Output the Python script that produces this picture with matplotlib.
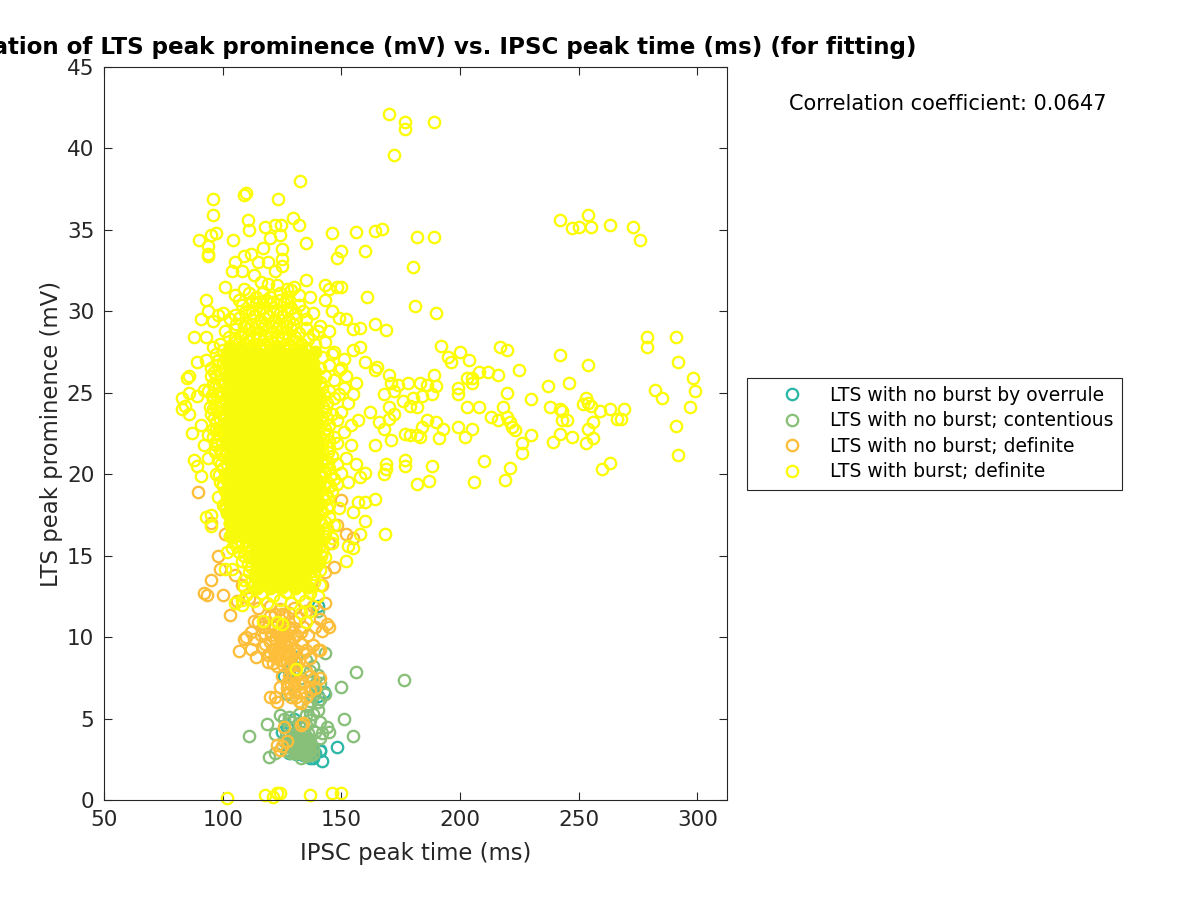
import matplotlib
matplotlib.use("Agg")
import matplotlib.pyplot as plt
from matplotlib.lines import Line2D

title_text = "Correlation of LTS peak prominence (mV) vs. IPSC peak time (ms) (for fitting)"
x_label = "IPSC peak time (ms)"
y_label = "LTS peak prominence (mV)"
corr_text = "Correlation coefficient: 0.0647"
series_names = ["LTS with no burst by overrule", "LTS with no burst; contentious",
                "LTS with no burst; definite", "LTS with burst; definite"]
series_colors = ["#2db7a6", "#88c07a", "#fdbe3a", "#fcfc06"]
saturated_color = "#f8fa0c"
x_ticks = [50, 100, 150, 200, 250, 300]
y_ticks = [0, 5, 10, 15, 20, 25, 30, 35, 40, 45]

overrule = [(142,2.4),(148,3.25),(141,3.1),(128,2.9),(131,2.8),(136,2.7),(138,2.6),(139,2.9),(142.5,6.6),
            (140,6.4),(127,4.5),(126,7.6),(130,5),(133,3.2),(129,3.5),(135,3.0),(125,4.2),(140,11.9),
            (131,8.8),(141,3),(128,7.9),(137,2.55),(134,2.75),(127.5,3.1)]

contentious = [(176.5,7.35),(156,7.85),(150,6.95),(143,9),(155,3.9),(151,4.95),(144,4.5),(145,4.2),(142,4.1),
               (111,3.9),(122,4.05),(118.5,4.65),(119.5,2.65),(122,2.9),(124,5.2),(128,5.1),(132,5.3),
               (135,5.2),(137,4.9),(140,5.5),(141,6.2),(138,6.4),(139,7.1),(140,7.7),(137,7.9),(133,7.5),
               (130,7.9),(143,6.5),(141,4.8),(132,4.7),(130,4.4),(128,4),(126,3.6),(129,3.2),(131,3.4),
               (133,3.8),(134,4),(135,3.6),(136,3.3),(137,3),(134,2.8),(131,2.9),(133,3.1),(129,2.9),
               (127,3.0),(132,3.6),(134,3.3),(136,2.9),(138,2.8),(135,2.7),(133,2.6),(130,3.7),(128,4.5),
               (136,5.8),(137,6.1),(140,6),(141,3.8),(140,11.6),(134,4.4),(131,4.1),(129,4.8),(126,5),
               (135,4.6),(138,5.3),(139,4.2),(127,6.5),(133,3.5),(132,3.0),(135,3.2),(137,3.6),(136,4.1),
               (139,6.7),(141,7.2),(138,8.2),(135,8.6),(129,8.4),(130,3.1),(131,3.6),(132,3.3),(133,2.9),
               (134,3.6),(134,3.1),(135,3.9),(136,3.6),(137,3.3),(130,3.4),(131,3.9),(132,3.9),(133,4.2),
               (135,2.95),(136,3.15),(137,2.75),(138,3.2),(131,3.15),(129,3.7),(128,3.4),(133,3.35),(134,3.75)]

definite_no_burst = [(92,12.7),(93.5,12.6),(95,13.5),(100,12.6),(103,11.35),(106,12.2),(107,9.15),(109,9.9),
    (110,10),(112,9.3),(113,9.9),(114,8.8),(112,10.3),(113,11),(115,10.9),(117,9.4),(118,10.2),(119,8.9),
    (120,9.7),(121,8.4),(122,10.7),(122,9.3),(123,8.2),(124,10),(124,9),(125,8.6),(126,9.6),(126,10.6),
    (127,8.9),(128,9.9),(128,7.6),(129,10.5),(130,9.3),(131,10.1),(132,8.6),(133,9.6),(134,10.6),(135,9.2),
    (136,10.1),(137,8.7),(138,9.5),(140,9.2),(139,10.6),(141,11.1),(142,10.4),(144,10.8),(145,10.6),
    (143,12.1),(142,13.2),(143,14),(120,11.3),(118,10.9),(116,10.1),(125,11.4),(130,11),(135,11.6),(138,11.9),
    (125,7.6),(122,6.3),(123,6.0),(120,6.3),(127,6.9),(124,6.95),(128,6.6),(130,7.2),(131,6.3),(132,6.05),
    (133,5.95),(134,7.2),(135,6.3),(133,6.6),(137,6.7),(138,7.4),(139,6.9),(141,7.5),(123,3.4),(124,3.05),
    (126,4.5),(133,4.6),(134,4.75),(127,3.6),(125,3.3),(141,9.2),(137,7.6),(135,7.9),(98,15),(99,14.2),
    (101,16.3),(89.5,18.9),(95,17),(142,15.3),(145,15.8),(148,16.9),(150,18.4),(152,16.3),(155,16.1),
    (108,13.2),(105,13.8),(111,12.4),(115,11.8),(147,14.3),
    (119,8.5),(120,9),(120.5,10.1),(121,9.3),(121.5,10.6),(122,8.8),(122.5,9.8),(123,9),(123,10.3),(124,8.6),
    (124,9.5),(124.5,10.5),(125,9.2),(125,10),(125.5,8.3),(126,9.1),(126,10.1),(127,8.4),(127,9.4),(127,10.2),
    (128,9),(128,10.6),(128.5,8.3),(129,9.6),(129,8.8),(130,10),(130,8.6),(131,9.2),(131,8.4),(118,9.6),(117,10.6),
    (119,10.6),(120,11.9),(122,11.4),(124,11.7),(126,11.3),(128,11.5),(130,11.8),(132,11.2),(133,10.3),(134,9),
    (127,7.2),(129,6.3),(130,6.7),(131,7.6),(129,7.5),(132,7.1),(133,7.3)]

burst_outer = [(170,42.1),(177,41.6),(177,41.2),(189,41.6),(172,39.6),(132.5,38),(96,36.9),(109,37.15),(110,37.25),
    (123.5,36.9),(96,35.9),(129.5,35.7),(132,35.3),(110.5,35.6),(111,35),(118,35.2),(122,35.3),(124.5,35.3),
    (124,34.7),(120,34.5),(146,34.8),(156,34.85),(164,34.95),(167,35.05),(182,34.55),(189,34.55),(90,34.4),
    (94,34),(95,34.7),(97,34.8),(104.5,34.4),(94,33.5),(93.7,33.4),(135,34.2),(160,33.7),(150,33.7),(148,33.3),
    (242,35.6),(247,35.1),(250,35.2),(254,35.9),(255,35.2),(263,35.3),(273,35.2),(276,34.4),(279,28.45),
    (279,27.8),(291,28.45),(292,26.9),(298,25.9),(299,25.1),(282,25.2),(285,24.7),(297,24.1),(291,22.95),
    (292,21.15),(269,24),(268,23.4),(263,24),(266,23.4),(259,23.9),(255,24.2),(253,24.7),(254,24.4),(252,24.3),
    (256,23.2),(254,22.8),(253,21.9),(256,22.2),(260,20.3),(263,20.7),(254,26.7),(246,25.6),(237,25.4),
    (242,27.3),(238,24.1),(242,24),(243,23.9),(243,23.3),(245,23.3),(242,22.5),(247,22.3),(239,22),(230,24.6),
    (230,22.4),(225,26.4),(226,21.9),(226,21.3),(221,20.4),(219,19.65),(218,24.1),(220,23.5),(221,23.2),
    (222,22.9),(223,22.7),(220,25),(217,27.8),(220,27.6),(216,26.1),(212,26.3),(208,26.3),(205,25.9),(204,27),
    (203,25.9),(200,27.5),(199,25.3),(199,24.9),(205,25.6),(208,24.1),(203,24.1),(213,23.5),(216,23.3),
    (199,22.9),(202,22.3),(205,22.8),(210,20.8),(206,19.5),(196,26.9),(195,27.2),(192,27.9),(190,29.9),
    (189,26.1),(188,24.9),(186,25.5),(190,25.4),(183,25.6),(184,24.8),(178,25.6),(180,24.7),(182,24.1),
    (179,24.2),(176,24.5),(190,23.2),(193,22.8),(191,22.2),(186,23.3),(184,22.9),(182,22.4),(179,22.4),
    (177,22.5),(183,22.3),(177,20.9),(177,20.5),(169,20.6),(169,20.3),(168,20),(188,20.5),(187,19.6),
    (182,19.4),(168.5,16.3),(180,32.7),(181,30.35),(169,28.85),(164,29.2),(161,30.9),(158,29),(155,28.9),
    (152,29.5),(149,29.6),(146,30),(148,31.5),(150,31.5),(143,31.6),(145,31.4),(143,30.7),(135,31.9),(137,30.9),
    (170,26.1),(165,26.6),(164,26.4),(160,26.9),(158,27.8),(155,27.6),(172,25.1),(171,25.6),(174,25.5),(168,24.9),
    (170,24.1),(172,23.7),(170,23.4),(166,23.2),(162,23.8),(168,22.8),(171,22.1),(164,21.8),(160,20.1),(158,19.8),
    (160,18.3),(164,18.5),(157,18.3),(155,17.7),(160,17.1),(158,16.3),(155,15.5),(152,14.65),(153,15.6),
    (102,0.1),(118,0.3),(121,0.2),(123,0.4),(124,0.45),(137,0.3),(146,0.45),(150,0.4),(131,8.05),
    (96,29.4),(93,30.7),(94,30),(88,28.4),(91,29.5),(98,29.8),(100,29.9),(86,25),(85,25.9),(86,26),(83,24.7),(84,24.2),
    (83,24),(86,23.7),(87,22.55),(88,20.9),(89,20.5),(89,24.8),(89,26.9),(91,19.9),(93,17.4),(95,17.5),(95,16.8),
    (91,23),(92,21.8),(94,21),(97,20),(98,18.6),(92,25.2),(93,27),(96,27.8),(95,26),(96,24),(94,22.4),(93,28.4),
    (97,22.8),(98,25),(98,27),(99,21.5),(100,19.4),(101,18),(103,17),(102,15.2),(101,14.2),(104,14.2),(105,15.8),
    (105,12.1),(108,12.3),(108,12),(109,13.5),(105,31),(105,29.8),(107,30.7),(101,31.5),(104,32.5),(105,33),
    (108,32.5),(109,33.4),(112,33.5),(115,33),(117,33.9),(119,33),(122,32.5),(125,33.8),(125,33.2),(125,32.8),
    (113,32.2),(116,31.8),(119,31.7),(123,31.6),(127,31.4),(130,31.5),(132,31),(134,30),(138,29.9),(141,29.1),
    (140,28.8),(145,28.8),(143,28.1),(139,28),(147,27.5),(151,27.1),(150,26.5),(152,26),(156,25.6),(149,24.9),
    (153,24.4),(155,24.9),(157,23.3),(154,23),(151,22.6),(154,21.8),(152,21),(156,20.6),(150,20.1),(148,19.4),
    (153,19.5),(149,17.9),(147,16.9),(146,15.8),(117,11),(123,10.9),(125,10.8),(135,10.9),(133,11.5),(137,11.6)]

burst_core = [
 (110,12.6),(113,12.2),(116,12.7),(118.5,12.1),(121,12.5),(124,12.3),(126.5,12.8),(129,12.1),(132,12.6),(134.5,12.2),(137,12.7),(140,12.5),
 (109,13.1),(112,13.4),(114.5,13),(117,13.3),(120,13),(122.5,13.4),(125,13.1),(128,13.5),(130.5,13),(133,13.4),(136,13.1),(138.5,13.4),(141,13.2),
 (111,14),(113.5,13.8),(116,14.1),(118.5,13.8),(121,14.2),(123.5,13.9),(126,14.2),(128.5,13.8),(131,14.1),(133.5,13.9),(136,14.2),(138.5,13.9),(141,14.1),
 (108,14.7),(110.5,14.5),(113,14.8),(115.5,14.5),(118,14.8),(120.5,14.6),(123,14.9),(125.5,14.6),(128,14.8),(130.5,14.5),(133,14.9),(135.5,14.6),(138,14.8),(140.5,14.6),(143,14.9),
 (104,15.5),(107,15.2),(109.5,15.5),(112,15.2),(114.5,15.5),(117,15.3),(119.5,15.6),(122,15.3),(124.5,15.5),(127,15.2),(129.5,15.6),(132,15.3),(134.5,15.5),(137,15.3),(139.5,15.6),(142,15.3),
 (103,16.2),(105.5,15.9),(108,16.2),(110.5,15.9),(113,16.2),(115.5,16),(118,16.3),(120.5,16),(123,16.2),(125.5,15.9),(128,16.3),(130.5,16),(133,16.2),(135.5,16),(138,16.3),(140.5,16),(143,16.2),(146,16.1),
 (104,16.7),(106.5,16.9),(109,16.6),(111.5,16.9),(114,16.6),(116.5,16.9),(119,16.7),(121.5,17),(124,16.7),(126.5,16.9),(129,16.6),(131.5,17),(134,16.7),(136.5,16.9),(139,16.7),(141.5,17),(144,16.7),
 (102,17.6),(104.5,17.3),(107,17.6),(109.5,17.3),(112,17.6),(114.5,17.4),(117,17.7),(119.5,17.4),(122,17.6),(124.5,17.3),(127,17.7),(129.5,17.4),(132,17.6),(134.5,17.4),(137,17.7),(139.5,17.4),(142,17.7),(145,17.4),
 (100,18.1),(102.5,18.3),(105,18),(107.5,18.3),(110,18),(112.5,18.3),(115,18.1),(117.5,18.4),(120,18.1),(122.5,18.3),(125,18),(127.5,18.4),(130,18.1),(132.5,18.3),(135,18.1),(137.5,18.4),(140,18.1),(142.5,18.4),(145,18.1),
 (101,19),(103.5,18.7),(106,19),(108.5,18.7),(111,19),(113.5,18.8),(116,19.1),(118.5,18.8),(121,19),(123.5,18.7),(126,19.1),(128.5,18.8),(131,19),(133.5,18.8),(136,19.1),(138.5,18.8),(141,19.1),(143.5,18.8),(146,19),
 (99,19.5),(101.5,19.7),(104,19.4),(106.5,19.7),(109,19.4),(111.5,19.7),(114,19.5),(116.5,19.8),(119,19.5),(121.5,19.7),(124,19.4),(126.5,19.8),(129,19.5),(131.5,19.7),(134,19.5),(136.5,19.8),(139,19.5),(141.5,19.8),(144,19.5),(147,19.7),
 (100,20.4),(102.5,20.1),(105,20.4),(107.5,20.1),(110,20.4),(112.5,20.2),(115,20.5),(117.5,20.2),(120,20.4),(122.5,20.1),(125,20.5),(127.5,20.2),(130,20.4),(132.5,20.2),(135,20.5),(137.5,20.2),(140,20.5),(142.5,20.2),(145,20.4),(148,20.6),
 (98,20.9),(100.5,21.1),(103,20.8),(105.5,21.1),(108,20.8),(110.5,21.1),(113,20.9),(115.5,21.2),(118,20.9),(120.5,21.1),(123,20.8),(125.5,21.2),(128,20.9),(130.5,21.1),(133,20.9),(135.5,21.2),(138,20.9),(140.5,21.2),(143,20.9),(146,21.1),
 (97,21.8),(99.5,21.5),(102,21.8),(104.5,21.5),(107,21.8),(109.5,21.6),(112,21.9),(114.5,21.6),(117,21.8),(119.5,21.5),(122,21.9),(124.5,21.6),(127,21.8),(129.5,21.6),(132,21.9),(134.5,21.6),(137,21.9),(139.5,21.6),(142,21.8),(145,21.6),(148,21.9),
 (96,22.3),(98.5,22.5),(101,22.2),(103.5,22.5),(106,22.2),(108.5,22.5),(111,22.3),(113.5,22.6),(116,22.3),(118.5,22.5),(121,22.2),(123.5,22.6),(126,22.3),(128.5,22.5),(131,22.3),(133.5,22.6),(136,22.3),(138.5,22.6),(141,22.3),(144,22.5),(147,22.3),
 (97,23.2),(99.5,22.9),(102,23.2),(104.5,22.9),(107,23.2),(109.5,23),(112,23.3),(114.5,23),(117,23.2),(119.5,22.9),(122,23.3),(124.5,23),(127,23.2),(129.5,23),(132,23.3),(134.5,23),(137,23.3),(139.5,23),(142,23.2),(145,23),(148,23.3),
 (95,23.7),(97.5,23.9),(100,23.6),(102.5,23.9),(105,23.6),(107.5,23.9),(110,23.7),(112.5,24),(115,23.7),(117.5,23.9),(120,23.6),(122.5,24),(125,23.7),(127.5,23.9),(130,23.7),(132.5,24),(135,23.7),(137.5,24),(140,23.7),(143,23.9),(146,23.7),(150,23.8),
 (96,24.6),(98.5,24.3),(101,24.6),(103.5,24.3),(106,24.6),(108.5,24.4),(111,24.7),(113.5,24.4),(116,24.6),(118.5,24.3),(121,24.7),(123.5,24.4),(126,24.6),(128.5,24.4),(131,24.7),(133.5,24.4),(136,24.7),(138.5,24.4),(141,24.6),(144,24.4),(147,24.7),
 (94,25.1),(96.5,25.3),(99,25),(101.5,25.3),(104,25),(106.5,25.3),(109,25.1),(111.5,25.4),(114,25.1),(116.5,25.3),(119,25),(121.5,25.4),(124,25.1),(126.5,25.3),(129,25.1),(131.5,25.4),(134,25.1),(136.5,25.4),(139,25.1),(142,25.3),(145,25.1),(151,25.3),
 (97,26),(99.5,25.7),(102,26),(104.5,25.7),(107,26),(109.5,25.8),(112,26.1),(114.5,25.8),(117,26),(119.5,25.7),(122,26.1),(124.5,25.8),(127,26),(129.5,25.8),(132,26.1),(134.5,25.8),(137,26.1),(139.5,25.8),(143,26),(147,25.8),
 (95,26.5),(98,26.7),(100.5,26.4),(103,26.7),(105.5,26.4),(108,26.7),(110.5,26.5),(113,26.8),(115.5,26.5),(118,26.7),(120.5,26.4),(123,26.8),(125.5,26.5),(128,26.7),(130.5,26.5),(133,26.8),(135.5,26.5),(138,26.8),(141,26.5),(145,26.7),(149,26.4),
 (97,27.4),(101,27.1),(103.5,27.4),(106,27.1),(108.5,27.4),(111,27.2),(113.5,27.5),(116,27.2),(118.5,27.4),(121,27.1),(123.5,27.5),(126,27.2),(128.5,27.4),(131,27.2),(133.5,27.5),(136,27.2),(139,27.5),(142,27.2),(146,27.4),
 (99,28),(103,27.9),(105.5,28.2),(108,27.9),(110.5,28.2),(113,28),(115.5,28.3),(118,28),(120.5,28.2),(123,27.9),(125.5,28.3),(128,28),(130.5,28.2),(133,28),(136,28.3),
 (101,28.8),(105,28.9),(108,28.6),(111,28.9),(114,28.7),(117,29),(120,28.7),(123,29),(126,28.7),(129,28.9),(132,28.7),(135,29),(138,28.6),
 (103,29.5),(107,29.6),(110,29.3),(113,29.7),(116,29.4),(119,29.7),(122,29.4),(125,29.7),(128,29.4),(131,29.6),(135,29.5),
 (108,30.4),(111,30.1),(114,30.5),(117,30.2),(120,30.5),(123,30.1),(126,30.5),(129,30.2),(132,30.4),
 (111,31.1),(114,30.9),(117,31.2),(120,30.9),(124,31.1),(127,30.9),(129,31.3),(109,31.4),
]

burst_core_inner = [
 (114.6,13.55),(117.3,13.6),(119.6,13.65),(122,13.55),(124.8,13.7),(127.1,13.6),(129.8,13.65),(132.2,13.55),(134.8,13.7),(137.3,13.55),
 (111.8,14.3),(114.3,14.35),(116.9,14.45),(119.4,14.3),(121.8,14.45),(124.3,14.3),(126.9,14.5),(129.3,14.35),(131.9,14.45),(134.4,14.3),(136.9,14.5),(139.3,14.35),
 (108.9,15),(111.3,14.95),(113.8,15.1),(116.3,14.95),(118.8,15.1),(121.3,15),(123.8,15.15),(126.3,14.9),(128.8,15.1),(131.3,14.95),(133.8,15.1),(136.3,15),(138.8,15.1),(141.3,15),
 (106,15.6),(108.3,15.75),(110.9,15.6),(113.3,15.8),(115.8,15.65),(118.3,15.85),(120.9,15.65),(123.3,15.8),(125.8,15.6),(128.3,15.85),(130.9,15.65),(133.3,15.8),(135.8,15.65),(138.3,15.85),(140.9,15.65),
 (105.3,16.45),(107.8,16.4),(110.3,16.5),(112.8,16.4),(115.3,16.55),(117.8,16.45),(120.3,16.55),(122.8,16.4),(125.3,16.5),(127.8,16.45),(130.3,16.55),(132.8,16.45),(135.3,16.55),(137.8,16.4),(140.3,16.55),(142.8,16.45),
 (103.3,17),(105.8,17.1),(108.3,17.05),(110.8,17.15),(113.3,17.05),(115.8,17.2),(118.3,17.05),(120.8,17.2),(123.3,17.05),(125.8,17.15),(128.3,17.1),(130.8,17.2),(133.3,17.05),(135.8,17.15),(138.3,17.1),(140.8,17.2),(143.3,17.05),
 (101.3,17.85),(103.8,17.9),(106.3,17.8),(108.8,17.9),(111.3,17.8),(113.8,17.95),(116.3,17.85),(118.8,17.95),(121.3,17.85),(123.8,17.9),(126.3,17.8),(128.8,17.95),(131.3,17.85),(133.8,17.9),(136.3,17.85),(138.8,17.95),(141.3,17.85),(143.8,17.9),
 (101.8,18.55),(104.3,18.5),(106.8,18.6),(109.3,18.5),(111.8,18.6),(114.3,18.55),(116.8,18.65),(119.3,18.55),(121.8,18.6),(124.3,18.5),(126.8,18.65),(129.3,18.55),(131.8,18.6),(134.3,18.55),(136.8,18.65),(139.3,18.55),(141.8,18.6),(144.3,18.55),
 (100.3,19.25),(102.8,19.2),(105.3,19.3),(107.8,19.2),(110.3,19.3),(112.8,19.25),(115.3,19.35),(117.8,19.25),(120.3,19.3),(122.8,19.2),(125.3,19.35),(127.8,19.25),(130.3,19.3),(132.8,19.25),(135.3,19.35),(137.8,19.25),(140.3,19.3),(142.8,19.25),(145.3,19.3),
 (98.3,19.95),(100.8,19.9),(103.3,20),(105.8,19.9),(108.3,20),(110.8,19.95),(113.3,20.05),(115.8,19.95),(118.3,20),(120.8,19.9),(123.3,20.05),(125.8,19.95),(128.3,20),(130.8,19.95),(133.3,20.05),(135.8,19.95),(138.3,20),(140.8,19.95),(143.3,20.05),(145.8,19.95),
 (99.3,20.65),(101.8,20.6),(104.3,20.7),(106.8,20.6),(109.3,20.7),(111.8,20.65),(114.3,20.75),(116.8,20.65),(119.3,20.7),(121.8,20.6),(124.3,20.75),(126.8,20.65),(129.3,20.7),(131.8,20.65),(134.3,20.75),(136.8,20.65),(139.3,20.7),(141.8,20.65),(144.3,20.75),
 (96.8,21.35),(99.3,21.3),(101.8,21.4),(104.3,21.3),(106.8,21.4),(109.3,21.35),(111.8,21.45),(114.3,21.35),(116.8,21.4),(119.3,21.3),(121.8,21.45),(124.3,21.35),(126.8,21.4),(129.3,21.35),(131.8,21.45),(134.3,21.35),(136.8,21.4),(139.3,21.35),(141.8,21.45),(144.3,21.35),
 (97.3,22.05),(99.8,22),(102.3,22.1),(104.8,22),(107.3,22.1),(109.8,22.05),(112.3,22.15),(114.8,22.05),(117.3,22.1),(119.8,22),(122.3,22.15),(124.8,22.05),(127.3,22.1),(129.8,22.05),(132.3,22.15),(134.8,22.05),(137.3,22.1),(139.8,22.05),(142.3,22.15),(144.8,22.05),
 (95.8,22.75),(98.3,22.7),(100.8,22.8),(103.3,22.7),(105.8,22.8),(108.3,22.75),(110.8,22.85),(113.3,22.75),(115.8,22.8),(118.3,22.7),(120.8,22.85),(123.3,22.75),(125.8,22.8),(128.3,22.75),(130.8,22.85),(133.3,22.75),(135.8,22.8),(138.3,22.75),(140.8,22.85),(143.3,22.75),
 (96.3,23.45),(98.8,23.4),(101.3,23.5),(103.8,23.4),(106.3,23.5),(108.8,23.45),(111.3,23.55),(113.8,23.45),(116.3,23.5),(118.8,23.4),(121.3,23.55),(123.8,23.45),(126.3,23.5),(128.8,23.45),(131.3,23.55),(133.8,23.45),(136.3,23.5),(138.8,23.45),(141.3,23.55),(143.8,23.45),
 (94.8,24.15),(97.3,24.1),(99.8,24.2),(102.3,24.1),(104.8,24.2),(107.3,24.15),(109.8,24.25),(112.3,24.15),(114.8,24.2),(117.3,24.1),(119.8,24.25),(122.3,24.15),(124.8,24.2),(127.3,24.15),(129.8,24.25),(132.3,24.15),(134.8,24.2),(137.3,24.15),(139.8,24.25),(142.3,24.15),
 (95.3,24.85),(97.8,24.8),(100.3,24.9),(102.8,24.8),(105.3,24.9),(107.8,24.85),(110.3,24.95),(112.8,24.85),(115.3,24.9),(117.8,24.8),(120.3,24.95),(122.8,24.85),(125.3,24.9),(127.8,24.85),(130.3,24.95),(132.8,24.85),(135.3,24.9),(137.8,24.85),(140.3,24.95),(142.8,24.85),
 (95.8,25.55),(98.3,25.5),(100.8,25.6),(103.3,25.5),(105.8,25.6),(108.3,25.55),(110.8,25.65),(113.3,25.55),(115.8,25.6),(118.3,25.5),(120.8,25.65),(123.3,25.55),(125.8,25.6),(128.3,25.55),(130.8,25.65),(133.3,25.55),(135.8,25.6),(138.3,25.55),(141,25.65),
 (96.3,26.25),(98.8,26.2),(101.3,26.3),(103.8,26.2),(106.3,26.3),(108.8,26.25),(111.3,26.35),(113.8,26.25),(116.3,26.3),(118.8,26.2),(121.3,26.35),(123.8,26.25),(126.3,26.3),(128.8,26.25),(131.3,26.35),(133.8,26.25),(136.3,26.3),(138.8,26.25),
 (97.8,26.95),(100.3,26.9),(102.8,27),(105.3,26.9),(107.8,27),(110.3,26.95),(112.8,27.05),(115.3,26.95),(117.8,27),(120.3,26.9),(122.8,27.05),(125.3,26.95),(127.8,27),(130.3,26.95),(132.8,27.05),(135.3,26.95),
 (100.3,27.65),(102.8,27.6),(105.3,27.7),(107.8,27.6),(110.3,27.7),(112.8,27.65),(115.3,27.75),(117.8,27.65),(120.3,27.7),(122.8,27.6),(125.3,27.75),(127.8,27.65),(130.3,27.7),(132.8,27.65),(135.3,27.75),
 (102.8,28.4),(105.3,28.35),(107.8,28.45),(110.3,28.35),(112.8,28.45),(115.3,28.4),(117.8,28.5),(120.3,28.4),(122.8,28.45),(125.3,28.35),(127.8,28.5),(130.3,28.4),
 (105.8,29.2),(108.8,29.1),(111.8,29.25),(114.8,29.1),(117.8,29.25),(120.8,29.1),(123.8,29.25),(126.8,29.1),(129.8,29.2),
 (109.3,29.95),(112.3,29.9),(115.3,30),(118.3,29.9),(121.3,30),(124.3,29.9),(127.3,30),(130.3,29.9),
 (112.3,30.65),(115.3,30.6),(118.3,30.7),(121.3,30.6),(124.3,30.7),(127.3,30.6),
]

def xs(points):
    return [p[0] for p in points]

def ys(points):
    return [p[1] for p in points]

series_points = [overrule, contentious, definite_no_burst, burst_outer + burst_core + burst_core_inner]

# In the saturated centre the reference's rings overlap into solid colour.
saturated = [p for p in burst_core_inner + burst_core
             if 12.9 <= p[1] <= 27.6 and 102 <= p[0] <= 140.5
             and (p[1] > 16 or p[0] >= 113) and (p[1] > 14 or p[0] <= 137)]

fig = plt.figure(figsize=(12, 9), dpi=100)
ax = fig.add_axes([104/1200, 100/900, 623/1200, 733/900])
handles = []
for pts, col, name in zip(series_points, series_colors, series_names):
    ax.plot(xs(pts), ys(pts), linestyle="none", marker="o", mfc="none", mec=col, ms=8.2, mew=1.65, clip_on=False)
    handles.append(Line2D([], [], linestyle="none", marker="o", mfc="none", mec=col, ms=8.2, mew=1.65, label=name))
ax.plot(xs(saturated), ys(saturated), linestyle="none", marker="o", mfc=saturated_color, mec=saturated_color,
        ms=8.2, mew=1.65)

ax.set_xlim(50, 312.5)
ax.set_ylim(0, 45)
ax.set_xticks(x_ticks)
ax.set_yticks(y_ticks)
ax.tick_params(direction="in", length=5.8, width=0.8, labelsize=15.5, colors="#262626", top=True, right=True, pad=7)
for s in ax.spines.values():
    s.set_linewidth(0.8)
    s.set_color("#262626")
ax.set_xlabel(x_label, fontsize=16.4, color="#262626", labelpad=9)
ax.set_ylabel(y_label, fontsize=16.4, color="#262626", labelpad=2.5)
ax.set_title(title_text, fontsize=16.6, fontweight="bold", pad=9.3)
fig.text(948/1200, 1 - 104/900, corr_text, fontsize=15.07, ha="center", va="center")
leg = ax.legend(handles=handles, loc="center left", bbox_to_anchor=(747/1200, 1 - 433.5/900),
                bbox_transform=fig.transFigure, fontsize=13.5, frameon=True, fancybox=False, framealpha=1,
                edgecolor="#262626", borderaxespad=0, borderpad=0.45, labelspacing=0.34, handletextpad=0.02,
                handlelength=3.95)
leg.get_frame().set_linewidth(0.8)
fig.savefig("out.png", dpi=100)
